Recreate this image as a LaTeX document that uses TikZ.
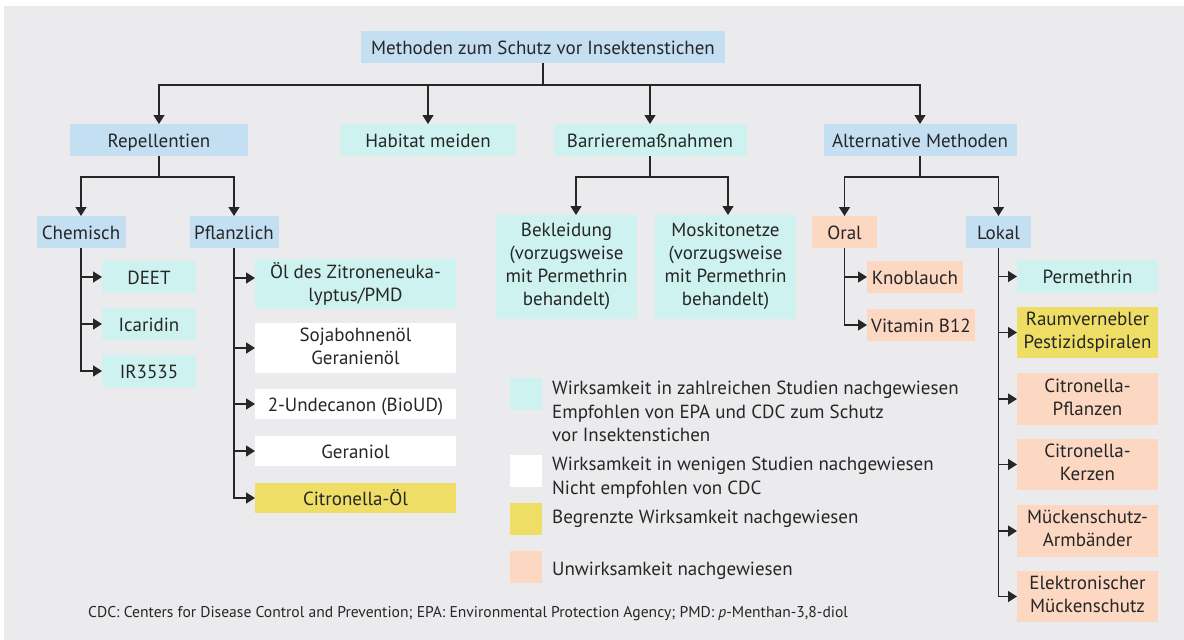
\documentclass[tikz,border=0pt]{standalone}
\usepackage{fontspec}
\setmainfont{PT Sans}
\usetikzlibrary{arrows.meta,calc,positioning}
\definecolor{bgray}{RGB}{235,235,237}
\definecolor{cblue}{RGB}{197,223,242}
\definecolor{cturq}{RGB}{205,242,239}
\definecolor{cyell}{RGB}{238,222,102}
\definecolor{cpeach}{RGB}{252,215,194}
\definecolor{ink}{RGB}{38,38,38}
\newcommand{\boxstrut}{\rule[-4.5pt]{0pt}{23pt}}
\tikzstyle{element}=[
  rectangle,
  inner sep=0pt,
  outer sep=0pt,
  align=center,
  text=ink,
  font={\fontsize{19}{23}\selectfont},
  execute at begin node=\boxstrut,
  execute at end node=\boxstrut,
  minimum height=32pt,
]
\tikzstyle{group}=[element, fill=cblue]
\tikzstyle{proven}=[element, fill=cturq]
\tikzstyle{weak}=[element, fill=white]
\tikzstyle{limited}=[element, fill=cyell]
\tikzstyle{useless}=[element, fill=cpeach]
\tikzstyle{arrow}=[
  draw=ink,
  line width=1.5pt,
]
\tikzstyle{swatch}=[rectangle, inner sep=0pt, minimum size=32pt]
\tikzstyle{legendtext}=[
  anchor=north west,
  inner sep=0pt,
  align=left,
  text=ink,
  font={\fontsize{19}{23.5}\selectfont},
]
\tikzset{
  >={Triangle[length=9pt,width=11pt]},
}
\begin{document}
\begin{tikzpicture}[x=1pt, y=-1pt]
  \useasboundingbox (0,0) rectangle (1184,640);
  \fill[white] (0,0) rectangle (1184,640);
  \fill[bgray] (4,6) rectangle (1184,640);
  %% top levels
  \node (root) [group, minimum width=364pt] at (543,47) {Methoden zum Schutz vor Insektenstichen};
  \node (rep) [group, minimum width=178pt] at (159,140) {Repellentien};
  \node (habitat) [proven, minimum width=176pt] at (428,140) {Habitat meiden};
  \node (barrier) [proven, minimum width=193pt] at (650,140) {Barrieremaßnahmen};
  \node (alt) [group, minimum width=193pt] at (920,140) {Alternative Methoden};
  \coordinate (R) at ($(root.south)+(0,22)$);
  \draw [arrow] (root.south) -- (R);
  \draw [->, arrow] (R) -| (rep.north);
  \draw [->, arrow] (R) -| (alt.north);
  \draw [->, arrow] (habitat.north |- R) -- (habitat.north);
  \draw [->, arrow] (barrier.north |- R) -- (barrier.north);
  %% Repellentien
  \node (chem) [group, minimum width=89pt] at (81,232) {Chemisch};
  \node (plant) [group, minimum width=89pt] at (234,232) {Pflanzlich};
  \coordinate (RB) at ($(rep.south)+(0,21)$);
  \draw [arrow] (rep.south) -- (RB);
  \draw [->, arrow] (RB) -| (chem.north);
  \draw [->, arrow] (RB) -| (plant.north);
  \node (deet) [proven, minimum width=94pt] at (149,277) {DEET};
  \node (icaridin) [proven, minimum width=94pt] at (149,324) {Icaridin};
  \node (ir) [proven, minimum width=94pt] at (149,371) {IR3535};
  \draw [->, arrow] (chem.south) |- (deet.west);
  \draw [->, arrow] (chem.south) |- (icaridin.west);
  \draw [->, arrow] (chem.south) |- (ir.west);
  \node (lemon) [proven, minimum width=201pt, minimum height=50pt] at (355.5,284) {Öl des Zitroneneuka-\\lyptus/PMD};
  \node (soy) [weak, minimum width=201pt, minimum height=50pt] at (355.5,348) {Sojabohnenöl\\Geranienöl};
  \node (undec) [weak, minimum width=201pt, minimum height=30pt] at (355.5,404) {2-Undecanon (BioUD)};
  \node (geraniol) [weak, minimum width=201pt, minimum height=30pt] at (355.5,451) {Geraniol};
  \node (citoil) [limited, minimum width=201pt, minimum height=30pt] at (355.5,498) {Citronella-Öl};
  \draw [->, arrow] (plant.south) |- ([yshift=6pt]lemon.west);
  \draw [->, arrow] (plant.south) |- (soy.west);
  \draw [->, arrow] (plant.south) |- (undec.west);
  \draw [->, arrow] (plant.south) |- (geraniol.west);
  \draw [->, arrow] (plant.south) |- (citoil.west);
  %% Barrieremassnahmen
  \node (cloth) [proven, minimum width=141pt, minimum height=104pt] at (566.5,267) {Bekleidung\\(vorzugsweise\\mit Permethrin\\behandelt)};
  \node (nets) [proven, minimum width=141pt, minimum height=104pt] at (725.5,267) {Moskitonetze\\(vorzugsweise\\mit Permethrin\\behandelt)};
  \coordinate (BB) at ($(barrier.south)+(0,21)$);
  \draw [arrow] (barrier.south) -- (BB);
  \draw [->, arrow] (BB) -| ([xshift=9.5pt]cloth.north);
  \draw [->, arrow] (BB) -| ([xshift=2.5pt]nets.north);
  %% Alternative Methoden
  \node (oral) [useless, minimum width=65pt] at (844.5,232) {Oral};
  \node (local) [group, minimum width=65pt] at (998.5,232) {Lokal};
  \coordinate (AB) at ($(alt.south)+(0,21)$);
  \draw [arrow] (alt.south) -- (AB);
  \draw [->, arrow] (AB) -| (oral.north);
  \draw [->, arrow] (AB) -| (local.north);
  \node (garlic) [useless, minimum width=96pt] at (915,277) {Knoblauch};
  \node (vitb) [useless, minimum width=108pt] at (921,325) {Vitamin B12};
  \draw [->, arrow] (oral.south) |- (garlic.west);
  \draw [->, arrow] (oral.south) |- (vitb.west);
  \node (perm) [proven, minimum width=141pt, minimum height=33pt] at (1087.5,276.5) {Permethrin};
  \node (fogger) [limited, minimum width=141pt, minimum height=51pt] at (1087.5,332.5) {Raumvernebler\\Pestizidspiralen};
  \node (plants) [useless, minimum width=141pt, minimum height=52pt] at (1087.5,399) {Citronella-\\Pflanzen};
  \node (candles) [useless, minimum width=141pt, minimum height=51pt] at (1087.5,464.5) {Citronella-\\Kerzen};
  \node (bands) [useless, minimum width=141pt, minimum height=52pt] at (1087.5,531) {Mückenschutz-\\Armbänder};
  \node (electro) [useless, minimum width=141pt, minimum height=51pt] at (1087.5,596.5) {Elektronischer\\Mückenschutz};
  \foreach \n in {perm,fogger,plants,candles,bands,electro}
    \draw [->, arrow] (local.south) |- (\n.west);
  %% legend
  \node (sw1) [swatch, fill=cturq] at (526,394) {};
  \node (sw2) [swatch, fill=white] at (526,471) {};
  \node (sw3) [swatch, fill=cyell] at (526,519) {};
  \node (sw4) [swatch, fill=cpeach] at (526,567) {};
  \node (lg1) [legendtext] at (552,381) {Wirksamkeit in zahlreichen Studien nachgewiesen\\Empfohlen von EPA und CDC zum Schutz\\vor Insektenstichen};
  \node (lg2) [legendtext] at (552,457) {Wirksamkeit in wenigen Studien nachgewiesen\\Nicht empfohlen von CDC};
  \node (lg3) [legendtext] at (552,510) {Begrenzte Wirksamkeit nachgewiesen};
  \node (lg4) [legendtext] at (552,562) {Unwirksamkeit nachgewiesen};
  %% footnote
  \node (note) [anchor=base west, inner sep=0pt, text=ink, font={\fontsize{15.6}{17}\selectfont}] at (88,617) {CDC: Centers for Disease Control and Prevention; EPA: Environmental Protection Agency; PMD: \textit{p}-Menthan-3,8-diol};
\end{tikzpicture}
\end{document}
